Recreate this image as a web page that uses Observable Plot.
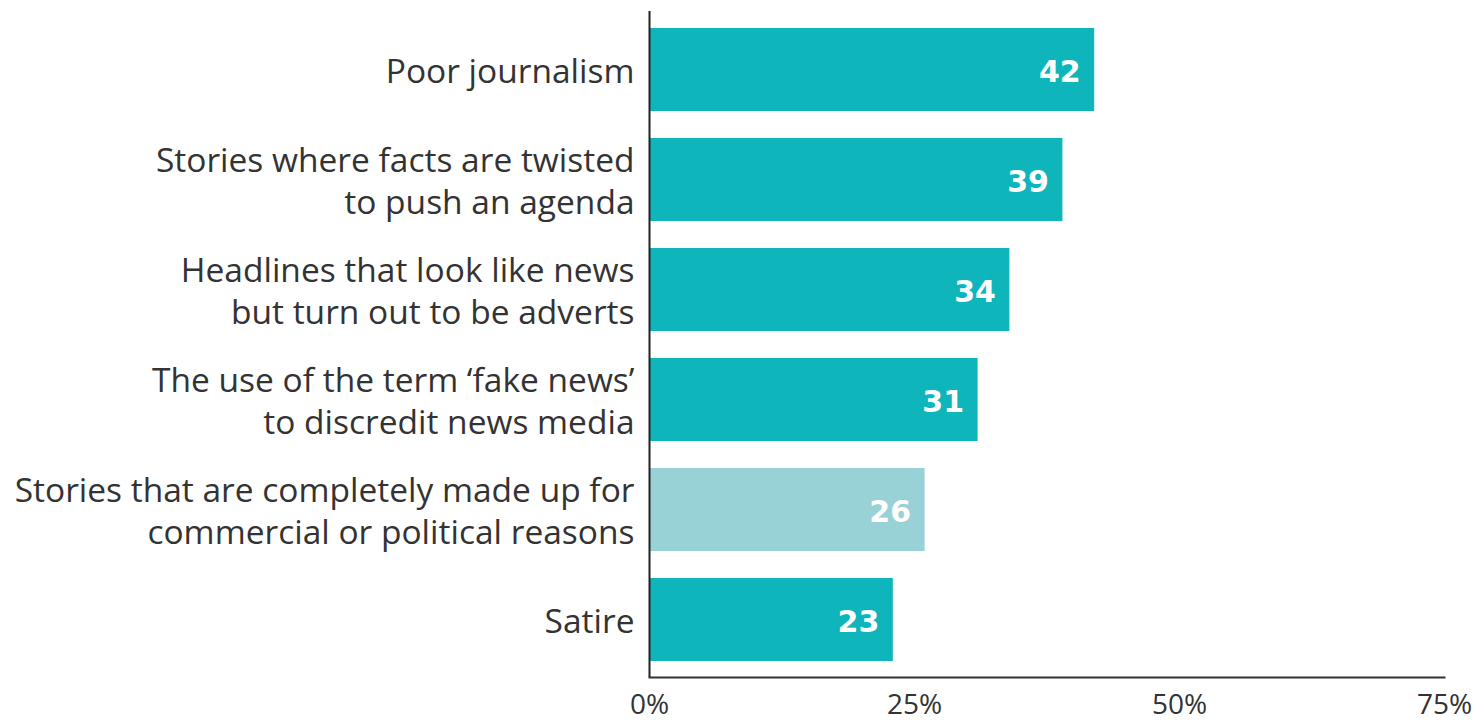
<!DOCTYPE html>
<html>
<head>
<meta charset="utf-8">
<script src="https://cdn.jsdelivr.net/npm/d3@7"></script>
<script src="https://cdn.jsdelivr.net/npm/@observablehq/plot@0.6"></script>
<style>
  html, body { margin: 0; padding: 0; background: #fff; }
  svg { display: block; }
</style>
</head>
<body>
<div id="chart"></div>
<script>
const categories = [
  "Poor journalism",
  "Stories where facts are twisted\nto push an agenda",
  "Headlines that look like news\nbut turn out to be adverts",
  "The use of the term ‘fake news’\nto discredit news media",
  "Stories that are completely made up for\ncommercial or political reasons",
  "Satire"
];
const values = [42, 39, 34, 31, 26, 23];
const highlight = [false, false, false, false, true, false];
const xTicks = [0, 25, 50, 75];

const data = categories.map((c, i) => ({category: c, value: values[i], light: highlight[i]}));

const font = "'Open Sans', 'DejaVu Sans', sans-serif";

const chart = Plot.plot({
  width: 1484,
  height: 721,
  marginLeft: 649,
  marginRight: 40,
  marginTop: 11,
  marginBottom: 44,
  style: {fontFamily: font, background: "#fff"},
  x: {domain: [0, 75], axis: null},
  y: {domain: categories, paddingInner: 0.25, paddingOuter: 0.126, axis: null},
  marks: [
    Plot.barX(data, {
      x: "value",
      y: "category",
      fill: d => d.light ? "#98d1d6" : "#0eb5ba"
    }),
    Plot.text(data, {
      x: "value",
      y: "category",
      text: d => String(d.value),
      textAnchor: "end",
      dx: -14,
      dy: 2,
      fill: "#ffffff",
      fontFamily: "'DejaVu Sans', sans-serif",
      fontSize: 30,
      fontWeight: "bold"
    }),
    Plot.axisY({
      tickSize: 0,
      tickPadding: 15,
      fontSize: 33.5,
      lineHeight: 1.254,
      fill: "#333333",
      label: null
    }),
    Plot.axisX({
      ticks: xTicks,
      tickFormat: d => d + "%",
      tickSize: 0,
      tickPadding: 17,
      fontSize: 28,
      fill: "#333333",
      label: null
    }),
    Plot.ruleX([0], {stroke: "#222", strokeWidth: 2}),
    Plot.frame({anchor: "bottom", stroke: "#333", strokeWidth: 2})
  ]
});

document.getElementById("chart").appendChild(chart);
</script>
</body>
</html>
